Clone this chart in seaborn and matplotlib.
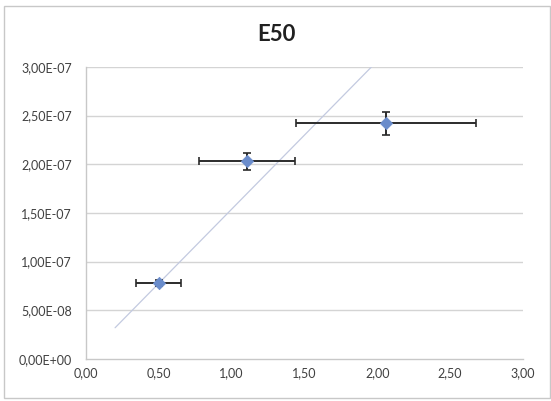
import matplotlib
matplotlib.use('Agg')
import matplotlib.pyplot as plt
import matplotlib.patches as mpatches
import seaborn as sns
import pandas as pd

# measured points with error bars
conc = [0.50, 1.105, 2.06]
e50 = [7.8e-08, 2.03e-07, 2.42e-07]
conc_err = [0.155, 0.33, 0.62]
e50_err = [3e-09, 9e-09, 1.15e-08]

# trend line end points
trend_x = [0.20, 1.96]
trend_y = [3.2e-08, 3.0e-07]

xticks = [0.0, 0.5, 1.0, 1.5, 2.0, 2.5, 3.0]
yticks = [0.0, 5e-08, 1e-07, 1.5e-07, 2e-07, 2.5e-07, 3e-07]

df = pd.DataFrame({'conc': conc, 'e50': e50})
trend = pd.DataFrame({'x': trend_x, 'y': trend_y})

sns.set_style('white')
plt.rcParams['font.family'] = ['Lato', 'DejaVu Sans']

fig = plt.figure(figsize=(5.51, 4.01), dpi=100)
ax = fig.add_axes([0.156, 0.105, 0.793, 0.728])

# outer chart border
fig.patches.append(mpatches.Rectangle((0.007, 0.007), 0.991, 0.978, transform=fig.transFigure,
                                      fill=False, edgecolor='#C8C8C8', linewidth=1.0))

for yv in yticks[1:]:
    ax.axhline(yv, color='#D4D4D4', linewidth=1.0, zorder=0)

sns.lineplot(data=trend, x='x', y='y', ax=ax, color='#C3CAE0', linewidth=0.9, zorder=1)

ax.errorbar(conc, e50, xerr=conc_err, yerr=e50_err, fmt='none', ecolor='#2B2B2B',
            elinewidth=1.4, capsize=3, capthick=1.2, zorder=2)
sns.scatterplot(data=df, x='conc', y='e50', ax=ax, marker='D', s=40, color='#6A8CCB',
                edgecolor='#6A8CCB', zorder=3)

ax.set_xlim(0, 3)
ax.set_ylim(0, 3e-07)
ax.set_xticks(xticks)
ax.set_yticks(yticks)
ax.set_xticklabels([f"{v:.2f}".replace('.', ',') for v in xticks])
ax.set_yticklabels([f"{v:.2E}".replace('.', ',') for v in yticks])
ax.tick_params(axis='both', length=0, labelsize=9, colors='#404040')
ax.tick_params(axis='x', pad=6)
ax.tick_params(axis='y', pad=10)
ax.set_xlabel('')
ax.set_ylabel('')

for side in ['top', 'right']:
    ax.spines[side].set_visible(False)
for side in ['left', 'bottom']:
    ax.spines[side].set_color('#C8C8C8')
    ax.spines[side].set_linewidth(1.0)

fig.text(0.501, 0.913, 'E50', ha='center', va='center', fontsize=16, fontweight='bold', color='#202020')

fig.savefig('out.png', dpi=100)
